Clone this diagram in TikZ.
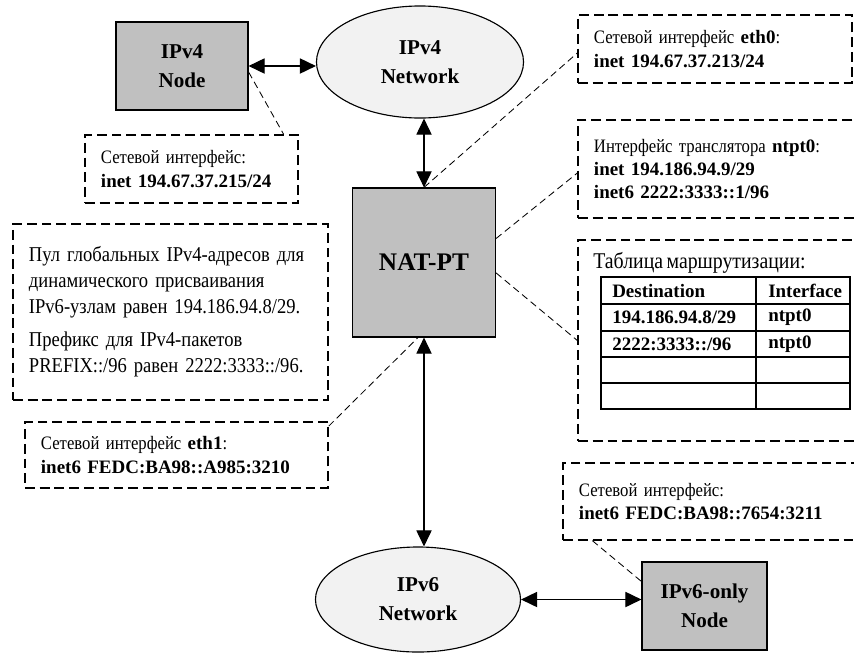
\documentclass[tikz,border=0pt]{standalone}
\usepackage{fontspec}
\setmainfont{Liberation Serif}[UprightFeatures={FakeStretch=0.88,WordSpace=0.7}]
\usetikzlibrary{shapes.geometric,arrows.meta}
\definecolor{boxgray}{RGB}{192,192,192}
\definecolor{netgray}{RGB}{242,242,242}

\begin{document}
\begin{tikzpicture}[x=0.025cm,y=-0.025cm,
    hostbox/.style={draw,line width=0.8pt,fill=boxgray,align=center,
      font=\fontsize{15}{20.5}\selectfont\bfseries},
    netcloud/.style={draw,ellipse,line width=0.8pt,fill=netgray,inner sep=0pt,
      align=center,font=\fontsize{15}{20.5}\selectfont\bfseries},
    note/.style={draw,line width=0.9pt,dash pattern=on 7pt off 3.5pt,align=left,
      inner xsep=0.4cm,inner ysep=0pt,font=\fontsize{13.5}{16.5}\selectfont},
    link/.style={line width=0.8pt,
      {Triangle[length=0.4cm,width=0.38cm]}-{Triangle[length=0.4cm,width=0.38cm]}},
    leader/.style={line width=0.6pt,dash pattern=on 5pt off 3pt},
    tabline/.style={line width=1pt},
    cell/.style={anchor=west,inner sep=0pt,font=\fontsize{13.5}{16}\selectfont\bfseries}]
   \useasboundingbox (0,0) rectangle (854,653);

   % hosts and networks
   \node[hostbox,minimum width=3.3cm,minimum height=2.2cm] (v4node) at (182,66) {IPv4\\Node};
   \node[netcloud,minimum width=5.175cm,minimum height=2.8cm] (v4net) at (420,62) {IPv4\\Network};
   \node[hostbox,minimum width=3.575cm,minimum height=3.725cm,
     font=\fontsize{18}{22}\selectfont\bfseries] (nat) at (424,262.5) {NAT-PT};
   \node[netcloud,minimum width=5.125cm,minimum height=2.625cm] (v6net) at (418,599.5) {IPv6\\Network};
   \node[hostbox,minimum width=3.125cm,minimum height=2.2cm] (v6node) at (704.5,606) {IPv6-only\\Node};

   \draw[link] (v4node.east) -- (v4node.east -| v4net.west);
   \draw[link] (nat.north) -- (nat.north |- v4net.south);
   \draw[link] (nat.south) -- (nat.south |- v6net.north);
   \draw[link] (v6net.east) -- (v6net.east -| v6node.west);

   % callouts
   \node[note,text width=4.525cm,minimum height=1.7cm] (c1) at (191.5,169)
     {Сетевой интерфейс:\\\textbf{inet 194.67.37.215/24}};
   \node[note,text width=6.05cm,minimum height=1.7cm] (c2) at (715,49)
     {Сетевой интерфейс \textbf{eth0}:\\\textbf{inet 194.67.37.213/24}};
   \node[note,text width=6.2cm,minimum height=2.45cm] (c3) at (718,169)
     {Интерфейс транслятора \textbf{ntpt0}:\\\textbf{inet 194.186.94.9/29}\\\textbf{inet6 2222:3333::1/96}};
   \node[note,text width=7.075cm,minimum height=4.4cm,
     font=\fontsize{15}{18.5}\selectfont] (pool) at (170.5,312)
     {Пул глобальных IPv4-адресов для\\динамического присваивания\\IPv6-узлам равен 194.186.94.8/29.\\[5pt]
      Префикс для IPv4-пакетов\\PREFIX::/96 равен 2222:3333::/96.};
   \node[note,text width=6.775cm,minimum height=1.65cm] (c4) at (176.5,455)
     {Сетевой интерфейс \textbf{eth1}:\\\textbf{inet6 FEDC:BA98::A985:3210}};
   \node[note,text width=6.575cm,minimum height=1.925cm] (c5) at (710.5,501.5)
     {Сетевой интерфейс:\\\textbf{inet6 FEDC:BA98::7654:3211}};
   \node[note,minimum width=7cm,minimum height=5.025cm] (route) at (718,340.5) {};

   % routing table
   \node[anchor=west,inner sep=0pt,font=\fontsize{16}{18}\selectfont] (rtitle) at (593,263) {Таблица маршрутизации:};
   \draw[tabline] (601,277) rectangle (850,409);
   \foreach \y in {304,331,357,383}
     \draw[tabline] (601,\y) -- (850,\y);
   \draw[tabline] (756,277) -- (756,409);
   \node[cell] (dst) at (612,290.5) {Destination};
   \node[cell] (ifc) at (768,290.5) {Interface};
   \node[cell] (dst1) at (612,317.5) {194.186.94.8/29};
   \node[cell] (ifc1) at (768,317.5) {ntpt0};
   \node[cell] (dst2) at (612,344) {2222:3333::/96};
   \node[cell] (ifc2) at (768,344) {ntpt0};

   % leaders
   \draw[leader] ([yshift=-0.15cm]v4node.east) -- ([xshift=-0.375cm]c1.north east);
   \draw[leader] (nat.north) -- ([yshift=-0.1cm]c2.west);
   \draw[leader] ([yshift=0.6cm]nat.east) -- ([yshift=-0.1cm]c3.west);
   \draw[leader] ([yshift=-0.26cm]nat.east) -- (route.west);
   \draw[leader] ([yshift=-0.12cm]c4.north east) -- ([xshift=-0.15cm]nat.south);
   \draw[leader] ([xshift=0.75cm]c5.south west) -- ([yshift=-0.5cm]v6node.north west);
 \end{tikzpicture}
\end{document}
